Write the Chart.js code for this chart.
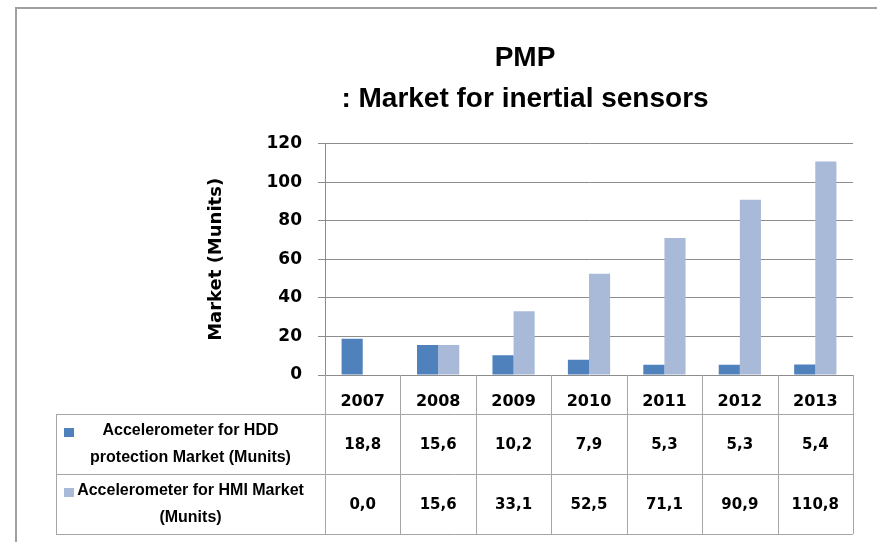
<!DOCTYPE html>
<html>
<head>
<meta charset="utf-8">
<script src="https://cdn.jsdelivr.net/npm/chart.js@4"></script>
<style>
  html, body { margin: 0; padding: 0; background: #ffffff; }
  #wrap { width: 877px; height: 542px; position: relative; }
</style>
</head>
<body>
<div id="wrap"><canvas id="pmpChart"></canvas></div>
<script>
const years = ['2007', '2008', '2009', '2010', '2011', '2012', '2013'];
const hddValues = [18.8, 15.6, 10.2, 7.9, 5.3, 5.3, 5.4];
const hmiValues = [0.0, 15.6, 33.1, 52.5, 71.1, 90.9, 110.8];
const seriesNames = [
    ['Accelerometer for HDD', 'protection Market (Munits)'],
    ['Accelerometer for HMI Market', '(Munits)']
];
const titleLines = ['PMP', ': Market for inertial sensors'];
const yTitle = 'Market (Munits)';

const colors = {
    hdd: '#4f81bd',
    hmi: '#a9bad9',
    grid: '#8c8c8c',
    table: '#a6a6a6',
    frame: '#a0a0a0'
};

const narrow = '"Liberation Sans Narrow", "Arial Narrow", "Liberation Sans", sans-serif';
const wide = '"DejaVu Sans", Verdana, sans-serif';

function formatValue(v) {
    return v.toFixed(1).replace('.', ',');
}

// draws the frame, the data table under the axis and the legend keys
const tablePlugin = {
    id: 'dataTable',
    beforeDraw(chart) {
        const { ctx, width, height } = chart;
        ctx.save();
        ctx.fillStyle = '#ffffff';
        ctx.fillRect(0, 0, width, height);
        ctx.strokeStyle = colors.frame;
        ctx.lineWidth = 2;
        ctx.beginPath();
        ctx.moveTo(16, height);
        ctx.lineTo(16, 8);
        ctx.lineTo(width, 8);
        ctx.stroke();
        ctx.restore();
    },
    afterDraw(chart) {
        const { ctx, chartArea } = chart;
        const x = chart.scales.x;
        const left = chartArea.left;
        const right = chartArea.right;
        const axisY = chartArea.bottom;
        const tableLeft = 56;
        const rowTops = [414, 474, 534];
        const step = (right - left) / years.length;

        ctx.save();
        ctx.strokeStyle = colors.table;
        ctx.lineWidth = 1;
        ctx.beginPath();
        for (let i = 0; i <= years.length; i++) {
            const px = Math.round(left + i * step) + 0.5;
            ctx.moveTo(px, axisY);
            ctx.lineTo(px, rowTops[2]);
        }
        rowTops.forEach((ry) => {
            ctx.moveTo(tableLeft, ry + 0.5);
            ctx.lineTo(right, ry + 0.5);
        });
        ctx.moveTo(tableLeft + 0.5, rowTops[0]);
        ctx.lineTo(tableLeft + 0.5, rowTops[2]);
        ctx.stroke();

        const series = [hddValues, hmiValues];
        const keyColors = [colors.hdd, colors.hmi];
        ctx.fillStyle = '#000000';
        ctx.textBaseline = 'middle';
        series.forEach((vals, r) => {
            const cy = (rowTops[r] + rowTops[r + 1]) / 2;
            ctx.font = 'bold 15px ' + wide;
            ctx.textAlign = 'center';
            vals.forEach((v, i) => {
                ctx.fillText(formatValue(v), x.getPixelForValue(i), cy + 1);
            });

            // legend key + label
            const keyX = 64;
            const keyY = rowTops[r] + 14;
            ctx.fillStyle = keyColors[r];
            ctx.fillRect(keyX, keyY, 10, 9);
            ctx.fillStyle = '#000000';
            ctx.font = 'bold 16px ' + narrow;
            const lines = seriesNames[r];
            lines.forEach((line, j) => {
                const w = ctx.measureText(line).width;
                const cx = Math.max((tableLeft + left) / 2, keyX + 12 + w / 2);
                ctx.fillText(line, cx, cy + (j - 0.5) * 27);
            });
        });
        ctx.restore();
    }
};

new Chart(document.getElementById('pmpChart').getContext('2d'), {
    type: 'bar',
    data: {
        labels: years,
        datasets: [
            {
                label: seriesNames[0].join(' '),
                data: hddValues,
                backgroundColor: colors.hdd,
                borderWidth: 0,
                categoryPercentage: 0.56,
                barPercentage: 1.0
            },
            {
                label: seriesNames[1].join(' '),
                data: hmiValues,
                backgroundColor: colors.hmi,
                borderWidth: 0,
                categoryPercentage: 0.56,
                barPercentage: 1.0
            }
        ]
    },
    options: {
        responsive: true,
        maintainAspectRatio: false,
        animation: false,
        layout: { padding: { left: 197, right: 24, top: 0, bottom: 0 } },
        plugins: {
            legend: { display: false },
            tooltip: { enabled: false },
            title: {
                display: true,
                text: titleLines,
                color: '#000000',
                font: { family: narrow, size: 28, weight: 'bold', lineHeight: 1.46 },
                padding: { top: 38, bottom: 24 }
            }
        },
        scales: {
            x: {
                grid: { display: false },
                border: { display: false },
                ticks: { color: '#000000', font: { family: wide, size: 16, weight: 'bold' }, padding: 9 },
                afterFit: (scale) => { scale.height = 167; }
            },
            y: {
                min: 0,
                max: 120,
                ticks: { stepSize: 20, color: '#000000', font: { family: wide, size: 17, weight: 'bold' }, padding: 16 },
                grid: { color: colors.grid, tickLength: 7 },
                border: { display: true, color: colors.grid },
                title: {
                    display: true,
                    text: yTitle,
                    color: '#000000',
                    font: { family: wide, size: 18, weight: 'bold' },
                    padding: { top: 9, bottom: 0 }
                },
                afterFit: (scale) => { scale.width = 128; }
            }
        }
    },
    plugins: [tablePlugin]
});
</script>
</body>
</html>
